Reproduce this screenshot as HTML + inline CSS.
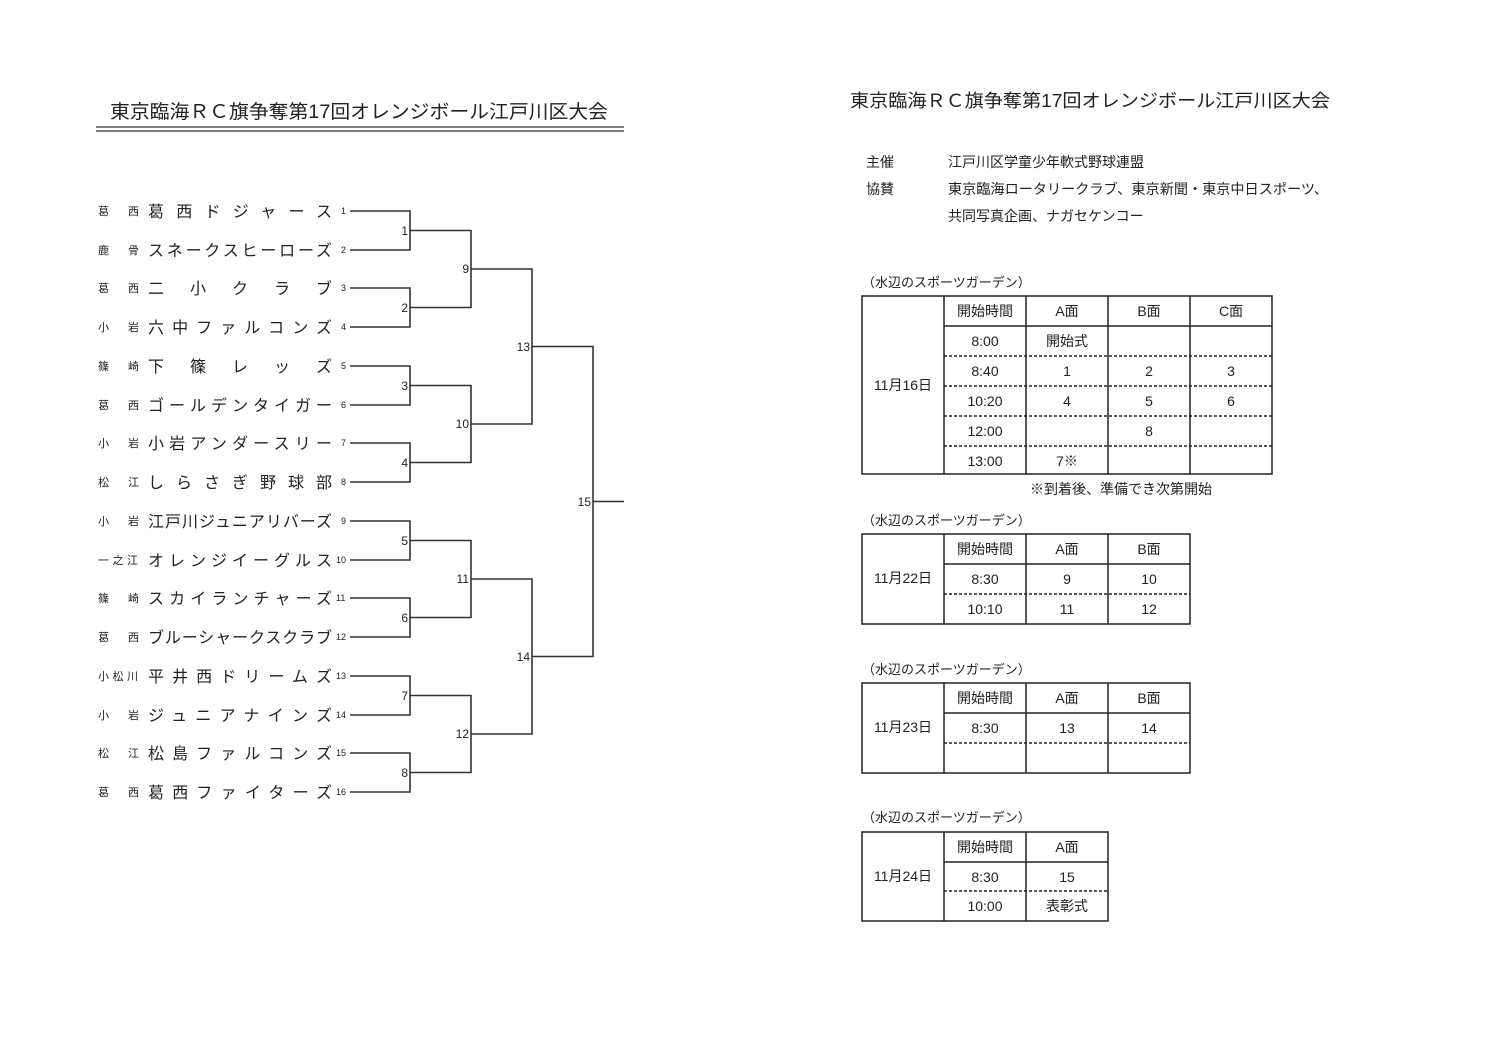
<!DOCTYPE html>
<html><head><meta charset="utf-8"><style>
html,body{margin:0;padding:0;background:#fff;}
svg{display:block;font-family:"Liberation Sans","Noto Sans CJK JP",sans-serif;}
</style></head><body>
<svg width="1497" height="1058" viewBox="0 0 1497 1058" xmlns="http://www.w3.org/2000/svg">
<rect width="1497" height="1058" fill="#fff"/>
<g fill="#222">
<text x="110" y="118" font-size="19" textLength="498" lengthAdjust="spacingAndGlyphs">東京臨海ＲＣ旗争奪第17回オレンジボール江戸川区大会</text>
<text x="850" y="107" font-size="18" textLength="480" lengthAdjust="spacingAndGlyphs">東京臨海ＲＣ旗争奪第17回オレンジボール江戸川区大会</text>
</g>
<line x1="96" y1="127" x2="624" y2="127" stroke="#333" stroke-width="1.3"/>
<line x1="96" y1="131" x2="624" y2="131" stroke="#333" stroke-width="1.3"/>

<g font-size="11" fill="#222">
<text x="98" y="215">葛</text><text x="128" y="215">西</text>
<text x="98" y="254">鹿</text><text x="128" y="254">骨</text>
<text x="98" y="292">葛</text><text x="128" y="292">西</text>
<text x="98" y="331">小</text><text x="128" y="331">岩</text>
<text x="98" y="370">篠</text><text x="128" y="370">崎</text>
<text x="98" y="409">葛</text><text x="128" y="409">西</text>
<text x="98" y="447">小</text><text x="128" y="447">岩</text>
<text x="98" y="486">松</text><text x="128" y="486">江</text>
<text x="98" y="525">小</text><text x="128" y="525">岩</text>
<text x="98" y="564" textLength="40">一之江</text>
<text x="98" y="602">篠</text><text x="128" y="602">崎</text>
<text x="98" y="641">葛</text><text x="128" y="641">西</text>
<text x="98" y="680" textLength="40">小松川</text>
<text x="98" y="719">小</text><text x="128" y="719">岩</text>
<text x="98" y="757">松</text><text x="128" y="757">江</text>
<text x="98" y="796">葛</text><text x="128" y="796">西</text>
</g>
<g font-size="16" fill="#222" lengthAdjust="spacing">
<text x="148" y="217" textLength="184">葛西ドジャース</text>
<text x="148" y="256" textLength="184">スネークスヒーローズ</text>
<text x="148" y="294" textLength="184">二小クラブ</text>
<text x="148" y="333" textLength="184">六中ファルコンズ</text>
<text x="148" y="372" textLength="184">下篠レッズ</text>
<text x="148" y="411" textLength="184">ゴールデンタイガー</text>
<text x="148" y="449" textLength="184">小岩アンダースリー</text>
<text x="148" y="488" textLength="184">しらさぎ野球部</text>
<text x="148" y="527" textLength="184">江戸川ジュニアリバーズ</text>
<text x="148" y="566" textLength="184">オレンジイーグルス</text>
<text x="148" y="604" textLength="184">スカイランチャーズ</text>
<text x="148" y="643" textLength="184">ブルーシャークスクラブ</text>
<text x="148" y="682" textLength="184">平井西ドリームズ</text>
<text x="148" y="721" textLength="184">ジュニアナインズ</text>
<text x="148" y="759" textLength="184">松島ファルコンズ</text>
<text x="148" y="798" textLength="184">葛西ファイターズ</text>
</g>
<g font-size="9" fill="#222">
<text x="341" y="214">1</text><text x="341" y="253">2</text><text x="341" y="291">3</text><text x="341" y="330">4</text>
<text x="341" y="369">5</text><text x="341" y="408">6</text><text x="341" y="446">7</text><text x="341" y="485">8</text>
<text x="341" y="524">9</text><text x="336" y="563">10</text><text x="336" y="601">11</text><text x="336" y="640">12</text>
<text x="336" y="679">13</text><text x="336" y="718">14</text><text x="336" y="756">15</text><text x="336" y="795">16</text>
</g>
<g stroke="#333" stroke-width="1.6" fill="none">
<path d="M350 211H410V250H350M350 288H410V327H350M350 366H410V405H350M350 443H410V482H350M350 521H410V560H350M350 598H410V637H350M350 676H410V715H350M350 753H410V792H350"/>
<path d="M410 230.5H471V307.5H410M410 385.5H471V462.5H410M410 540.5H471V617.5H410M410 695.5H471V772.5H410"/>
<path d="M471 269H532V424H471M471 579H532V734H471"/>
<path d="M532 346.5H593V656.5H532M593 501.5H624"/>
</g>
<g font-size="12" fill="#222" text-anchor="end">
<text x="408" y="235">1</text><text x="408" y="312">2</text><text x="408" y="390">3</text><text x="408" y="467">4</text>
<text x="408" y="545">5</text><text x="408" y="622">6</text><text x="408" y="700">7</text><text x="408" y="777">8</text>
<text x="469" y="273">9</text><text x="469" y="428">10</text><text x="469" y="583">11</text><text x="469" y="738">12</text>
<text x="530" y="351">13</text><text x="530" y="661">14</text><text x="591" y="506">15</text>
</g>

<g font-size="14" fill="#222">
<text x="866" y="167">主催</text><text x="948" y="167">江戸川区学童少年軟式野球連盟</text>
<text x="866" y="194">協賛</text><text x="948" y="194" textLength="380" lengthAdjust="spacingAndGlyphs">東京臨海ロータリークラブ、東京新聞・東京中日スポーツ、</text>
<text x="948" y="221">共同写真企画、ナガセケンコー</text>
<text x="862" y="287" font-size="13">（水辺のスポーツガーデン）</text>
<text x="862" y="525" font-size="13">（水辺のスポーツガーデン）</text>
<text x="862" y="674" font-size="13">（水辺のスポーツガーデン）</text>
<text x="862" y="822" font-size="13">（水辺のスポーツガーデン）</text>
<text x="1030" y="494">※到着後、準備でき次第開始</text>
</g>

<g stroke="#222" stroke-width="1.5" fill="none">
<rect x="862" y="296" width="410" height="178"/>
<path d="M944 296V474M1026 296V474M1108 296V474M1190 296V474M944 326H1272"/>
</g>
<g stroke="#222" stroke-width="1.5" stroke-dasharray="3,2" fill="none">
<path d="M944 356H1272M944 386H1272M944 416H1272M944 446H1272"/>
</g>
<g font-size="14" fill="#222" text-anchor="middle">
<text x="903" y="390">11月16日</text>
<text x="985" y="316">開始時間</text><text x="1067" y="316">A面</text><text x="1149" y="316">B面</text><text x="1231" y="316">C面</text>
<text x="985" y="346">8:00</text><text x="1067" y="346">開始式</text>
<text x="985" y="376">8:40</text><text x="1067" y="376">1</text><text x="1149" y="376">2</text><text x="1231" y="376">3</text>
<text x="985" y="406">10:20</text><text x="1067" y="406">4</text><text x="1149" y="406">5</text><text x="1231" y="406">6</text>
<text x="985" y="436">12:00</text><text x="1149" y="436">8</text>
<text x="985" y="466">13:00</text><text x="1067" y="466">7※</text>
</g>

<g stroke="#222" stroke-width="1.5" fill="none">
<rect x="862" y="534" width="328" height="90"/>
<path d="M944 534V624M1026 534V624M1108 534V624M944 564H1190"/>
</g>
<path d="M944 594H1190" stroke="#222" stroke-width="1.5" stroke-dasharray="3,2"/>
<g font-size="14" fill="#222" text-anchor="middle">
<text x="903" y="583">11月22日</text>
<text x="985" y="554">開始時間</text><text x="1067" y="554">A面</text><text x="1149" y="554">B面</text>
<text x="985" y="584">8:30</text><text x="1067" y="584">9</text><text x="1149" y="584">10</text>
<text x="985" y="614">10:10</text><text x="1067" y="614">11</text><text x="1149" y="614">12</text>
</g>

<g stroke="#222" stroke-width="1.5" fill="none">
<rect x="862" y="683" width="328" height="90"/>
<path d="M944 683V773M1026 683V773M1108 683V773M944 713H1190"/>
</g>
<path d="M944 743H1190" stroke="#222" stroke-width="1.5" stroke-dasharray="3,2"/>
<g font-size="14" fill="#222" text-anchor="middle">
<text x="903" y="732">11月23日</text>
<text x="985" y="703">開始時間</text><text x="1067" y="703">A面</text><text x="1149" y="703">B面</text>
<text x="985" y="733">8:30</text><text x="1067" y="733">13</text><text x="1149" y="733">14</text>
</g>

<g stroke="#222" stroke-width="1.5" fill="none">
<rect x="862" y="832" width="246" height="89"/>
<path d="M944 832V921M1026 832V921M944 862H1108"/>
</g>
<path d="M944 891H1108" stroke="#222" stroke-width="1.5" stroke-dasharray="3,2"/>
<g font-size="14" fill="#222" text-anchor="middle">
<text x="903" y="881">11月24日</text>
<text x="985" y="852">開始時間</text><text x="1067" y="852">A面</text>
<text x="985" y="882">8:30</text><text x="1067" y="882">15</text>
<text x="985" y="911">10:00</text><text x="1067" y="911">表彰式</text>
</g>
</svg>
</body></html>
